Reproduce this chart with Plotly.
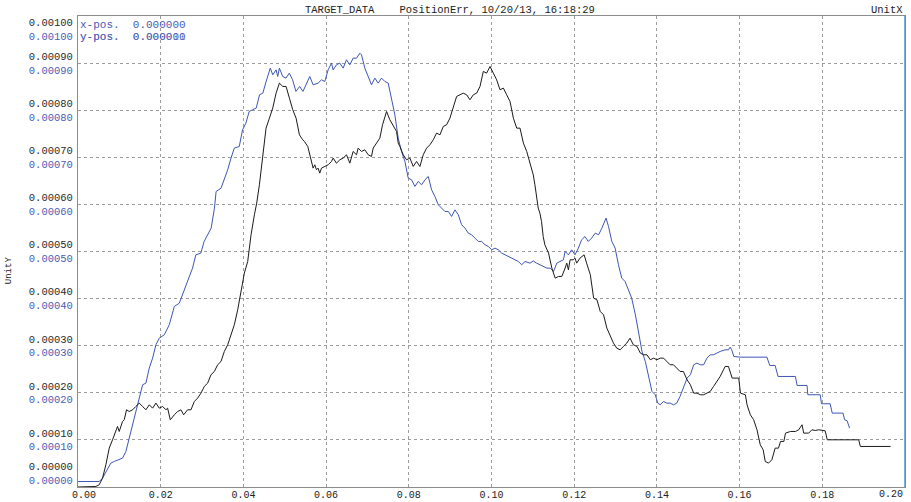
import plotly.graph_objects as go

# ---- series: time [s] and position error ----
black_t = [
    0.0, 0.00432, 0.00513, 0.00593, 0.00674, 0.00755, 0.00835, 0.00916, 0.00956, 0.00997,
    0.01077, 0.01118, 0.01174, 0.01239, 0.01320, 0.01400, 0.01481, 0.01562, 0.01642, 0.01723,
    0.01804, 0.01885, 0.01965, 0.02046, 0.02127, 0.02167, 0.02232, 0.02329, 0.02409, 0.02490,
    0.02555, 0.02651, 0.02732, 0.02813, 0.02893, 0.02974, 0.03055, 0.03136, 0.03216, 0.03297,
    0.03378, 0.03458, 0.03539, 0.03620, 0.03700, 0.03781, 0.03862, 0.03943, 0.04023, 0.04104,
    0.04185, 0.04266, 0.04322, 0.04387, 0.04467, 0.04548, 0.04629, 0.04709, 0.04790, 0.04871,
    0.04952, 0.05032, 0.05113, 0.05194, 0.05274, 0.05355, 0.05436, 0.05476, 0.05557,
    0.05605, 0.05646, 0.05686, 0.05726, 0.05767, 0.05807, 0.05847, 0.05888, 0.05969, 0.06049,
    0.06130, 0.06170, 0.06251, 0.06332, 0.06412, 0.06493, 0.06574, 0.06654, 0.06735, 0.06775,
    0.06856, 0.06937, 0.07018, 0.07098, 0.07139, 0.07220, 0.07300, 0.07365, 0.07421, 0.07462,
    0.07542, 0.07623, 0.07704, 0.07744, 0.07785, 0.07865, 0.07946, 0.08027, 0.08107, 0.08188,
    0.08269, 0.08349, 0.08430, 0.08511, 0.08592, 0.08672, 0.08753, 0.08834, 0.08914, 0.08995,
    0.09076, 0.09157, 0.09237, 0.09318, 0.09399, 0.09479, 0.09560, 0.09641, 0.09722, 0.09762,
    0.09802, 0.09883, 0.09964, 0.10045, 0.10125, 0.10206, 0.10287, 0.10367, 0.10448, 0.10529,
    0.10610, 0.10690, 0.10771, 0.10852, 0.10932,
    0.1101, 0.1105, 0.1109, 0.1113, 0.1117, 0.1121, 0.1125, 0.1129, 0.1138, 0.1146,
    0.1154, 0.1162, 0.1170, 0.1174, 0.1178, 0.1182, 0.1186, 0.1190, 0.1198, 0.1202,
    0.1206, 0.1214, 0.1224, 0.1230, 0.1239, 0.1247, 0.1255, 0.1263, 0.1271, 0.1279,
    0.1287, 0.1295, 0.1303, 0.1311, 0.1319, 0.1327, 0.1335, 0.1343, 0.1352, 0.1360,
    0.1368, 0.1376, 0.1384, 0.1392, 0.1400, 0.1408, 0.1416, 0.1424, 0.1432, 0.1440,
    0.1448, 0.1456, 0.1464, 0.1473, 0.1481, 0.1489, 0.1497, 0.1505, 0.1513, 0.1521,
    0.1529, 0.1537, 0.1545, 0.1553,
    0.1561, 0.1565, 0.1573, 0.1577, 0.1582, 0.1598, 0.1602, 0.1614, 0.1618, 0.1626,
    0.1634, 0.1642, 0.1650, 0.1657, 0.1662, 0.1670, 0.1678, 0.1686, 0.1694, 0.1699,
    0.1707, 0.1711, 0.1723, 0.1735, 0.1743, 0.1751, 0.1755, 0.1767, 0.1775, 0.1783,
    0.1791, 0.1807, 0.1812, 0.1888, 0.1892, 0.1965,
]
black_v = [
    0.0, 0.0000011, 0.0000047, 0.0000188, 0.0000471, 0.0000825, 0.0001002, 0.0001179, 0.0001285, 0.0001179,
    0.0001391, 0.0001427, 0.0001639, 0.0001603, 0.0001639, 0.0001710, 0.0001781, 0.0001710, 0.0001639, 0.0001745,
    0.0001674, 0.0001781, 0.0001674, 0.0001710, 0.0001639, 0.0001674, 0.0001427, 0.0001533, 0.0001603, 0.0001639,
    0.0001533, 0.0001639, 0.0001639, 0.0001816, 0.0001887, 0.0001993, 0.0002135, 0.0002205, 0.0002382, 0.0002453,
    0.0002595, 0.0002665, 0.0002878, 0.0003019, 0.0003231, 0.0003444, 0.0003762, 0.0004151, 0.0004541, 0.0004788,
    0.0005355, 0.0005779, 0.0006027, 0.0006416, 0.0007053, 0.0007619, 0.0007831, 0.0008044, 0.0008362, 0.0008575,
    0.0008504, 0.0008504, 0.0008256, 0.0008009, 0.0007831, 0.0007477, 0.0007371, 0.0007336, 0.0007230,
    0.0007053, 0.0006876, 0.0006770, 0.0006841, 0.0006735, 0.0006770, 0.0006664, 0.0006770, 0.0006806, 0.0006841,
    0.0006912, 0.0006983, 0.0006876, 0.0006947, 0.0006983, 0.0007053, 0.0006876, 0.0007124, 0.0007053, 0.0007195,
    0.0007124, 0.0007159, 0.0007053, 0.0007018, 0.0007195, 0.0007301, 0.0007407, 0.0007690, 0.0007832, 0.0007973,
    0.0007796, 0.0007655, 0.0007548, 0.0007301, 0.0007230, 0.0007053, 0.0006947, 0.0006983, 0.0006806, 0.0006912,
    0.0006806, 0.0007053, 0.0007195, 0.0007266, 0.0007372, 0.0007513, 0.0007478, 0.0007655, 0.0007690, 0.0007832,
    0.0008044, 0.0008292, 0.0008327, 0.0008362, 0.0008327, 0.0008221, 0.0008327, 0.0008362, 0.0008504, 0.0008645,
    0.0008822, 0.0008787, 0.0008929, 0.0008787, 0.0008645, 0.0008433, 0.0008469, 0.0008327, 0.0008186, 0.0007832,
    0.0007619, 0.0007619, 0.0007301, 0.0007124, 0.0006876,
    0.0006629, 0.0006416, 0.0006204, 0.0005921, 0.0005815, 0.0005638, 0.0005319, 0.0005143, 0.0004966, 0.0004647,
    0.0004435, 0.0004470, 0.0004470, 0.0004541, 0.0004647, 0.0004753, 0.0004612, 0.0004824, 0.0004824, 0.0004859,
    0.0004753, 0.0004859, 0.0004930, 0.0004753, 0.0004505, 0.0004010, 0.0003974, 0.0003727, 0.0003656, 0.0003373,
    0.0003231, 0.0003054, 0.0002948, 0.0002913, 0.0002984, 0.0003054, 0.0003160, 0.0003019, 0.0002984, 0.0002842,
    0.0002807, 0.0002807, 0.0002701, 0.0002736, 0.0002701, 0.0002736, 0.0002736, 0.0002665, 0.0002595, 0.0002595,
    0.0002524, 0.0002453, 0.0002453, 0.0002276, 0.0002170, 0.0001993, 0.0001993, 0.0001958, 0.0001958, 0.0001993,
    0.0002029, 0.0002135, 0.0002241, 0.0002347,
    0.0002488, 0.0002559, 0.0002559, 0.0002453, 0.0002312, 0.0002312, 0.0001993, 0.0001958, 0.0001745, 0.0001533,
    0.0001427, 0.0001215, 0.0000896, 0.0000790, 0.0000542, 0.0000507, 0.0000577, 0.0000825, 0.0000825, 0.0000967,
    0.0000967, 0.0001144, 0.0001179, 0.0001179, 0.0001215, 0.0001321, 0.0001144, 0.0001144, 0.0001215, 0.0001200,
    0.0001215, 0.0001193, 0.0001002, 0.0001002, 0.0000861, 0.0000861,
]

blue_t = [
    0.0, 0.00513, 0.00593, 0.00714, 0.00795, 0.00876, 0.00956, 0.01077, 0.01158, 0.01239,
    0.01360, 0.01481, 0.01562, 0.01642, 0.01723, 0.01804, 0.01885, 0.01965, 0.02086, 0.02207,
    0.02329, 0.02450, 0.02530, 0.02650, 0.02770, 0.02850, 0.02970, 0.03050, 0.03140, 0.03220,
    0.03300, 0.03340, 0.03460, 0.03540, 0.03620, 0.03700, 0.03780, 0.03900, 0.03980, 0.04060,
    0.04140, 0.04220, 0.04310, 0.04390, 0.04470, 0.04550, 0.04650, 0.04710, 0.04790, 0.04830,
    0.04870, 0.04950, 0.05030, 0.05110, 0.05190, 0.05270, 0.05360, 0.05440, 0.05560,
    0.05605, 0.05686, 0.05807, 0.05888, 0.05969, 0.06049, 0.06130, 0.06170, 0.06251, 0.06332,
    0.06412, 0.06493, 0.06574, 0.06654, 0.06735, 0.06816, 0.06856, 0.06937, 0.07018, 0.07098,
    0.07179, 0.07260, 0.07341, 0.07421, 0.07502, 0.07583, 0.07663, 0.07744, 0.07825, 0.07906,
    0.07986, 0.08067, 0.08148, 0.08228, 0.08309, 0.08390, 0.08471, 0.08551, 0.08632, 0.08713,
    0.08793, 0.08874, 0.08955, 0.09035, 0.09116, 0.09197, 0.09278, 0.09358, 0.09439, 0.09520,
    0.09600, 0.09681, 0.09762, 0.09843, 0.09923, 0.10004, 0.10085, 0.10165, 0.10246, 0.10327,
    0.10408, 0.10488, 0.10569, 0.10650, 0.10730, 0.10811, 0.10932,
    0.1101, 0.1109, 0.1117, 0.1125, 0.1134, 0.1142, 0.1150, 0.1158, 0.1166, 0.1174,
    0.1178, 0.1186, 0.1194, 0.1202, 0.1210, 0.1218, 0.1226, 0.1234, 0.1242, 0.1251,
    0.1259, 0.1267, 0.1277, 0.1283, 0.1291, 0.1299, 0.1307, 0.1315, 0.1323, 0.1331,
    0.1339, 0.1348, 0.1356, 0.1364, 0.1372, 0.1380, 0.1388, 0.1396, 0.1402, 0.1408,
    0.1416, 0.1424, 0.1432, 0.1440, 0.1448, 0.1456, 0.1464, 0.1473, 0.1481, 0.1489,
    0.1497, 0.1505, 0.1513, 0.1521, 0.1529, 0.1537, 0.1553,
    0.1565, 0.1573, 0.1577, 0.1581, 0.1586, 0.1602, 0.1666, 0.1673, 0.1686, 0.1693,
    0.1735, 0.1739, 0.1763, 0.1765, 0.1795, 0.1798, 0.1819, 0.1824, 0.1850, 0.1854,
    0.1860, 0.1866,
]
blue_v = [
    0.0000117, 0.0000117, 0.0000188, 0.0000365, 0.0000507, 0.0000542, 0.0000577, 0.0000613, 0.0000754, 0.0001038,
    0.0001462, 0.0001887, 0.0002170, 0.0002205, 0.0002524, 0.0002736, 0.0003019, 0.0003160, 0.0003231, 0.0003444,
    0.0003833, 0.0003904, 0.0004081, 0.0004364, 0.0004647, 0.0004930, 0.0004965, 0.0005213, 0.0005355, 0.0005496,
    0.0005921, 0.0006275, 0.0006345, 0.0006522, 0.0006735, 0.0006983, 0.0007195, 0.0007230, 0.0007584, 0.0007726,
    0.0007973, 0.0008009, 0.0008044, 0.0008327, 0.0008362, 0.0008610, 0.0008893, 0.0008751, 0.0008857, 0.0008716,
    0.0008893, 0.0008716, 0.0008681, 0.0008787, 0.0008645, 0.0008398, 0.0008504, 0.0008398, 0.0008610,
    0.0008716, 0.0008539, 0.0008575, 0.0008645, 0.0008610, 0.0008857, 0.0008999, 0.0008857, 0.0008964, 0.0008999,
    0.0008893, 0.0009070, 0.0008964, 0.0009105, 0.0009105, 0.0009212, 0.0009176, 0.0008893, 0.0008716, 0.0008539,
    0.0008681, 0.0008575, 0.0008681, 0.0008610, 0.0008575, 0.0008256, 0.0007902, 0.0007407, 0.0007124, 0.0006912,
    0.0006558, 0.0006522, 0.0006381, 0.0006487, 0.0006416, 0.0006522, 0.0006593, 0.0006310, 0.0006169, 0.0005992,
    0.0005921, 0.0005850, 0.0005850, 0.0005744, 0.0005885, 0.0005779, 0.0005568, 0.0005496, 0.0005390, 0.0005355,
    0.0005284, 0.0005213, 0.0005213, 0.0005143, 0.0005107, 0.0005036, 0.0005072, 0.0005036, 0.0004966, 0.0004930,
    0.0004895, 0.0004859, 0.0004824, 0.0004788, 0.0004718, 0.0004788, 0.0004753,
    0.0004800, 0.0004753, 0.0004718, 0.0004682, 0.0004647, 0.0004647, 0.0004576, 0.0004753, 0.0004788, 0.0004824,
    0.0005001, 0.0004930, 0.0005036, 0.0004930, 0.0005072, 0.0005249, 0.0005319, 0.0005213, 0.0005284, 0.0005390,
    0.0005355, 0.0005496, 0.0005709, 0.0005532, 0.0005213, 0.0005072, 0.0004718, 0.0004435, 0.0004364, 0.0004187,
    0.0004010, 0.0003656, 0.0003303, 0.0002878, 0.0002665, 0.0002312, 0.0002029, 0.0001958, 0.0001781, 0.0001745,
    0.0001816, 0.0001781, 0.0001781, 0.0001745, 0.0001781, 0.0001922, 0.0002099, 0.0002312, 0.0002383, 0.0002595,
    0.0002630, 0.0002595, 0.0002595, 0.0002736, 0.0002807, 0.0002807, 0.0002878,
    0.0002913, 0.0002913, 0.0002970, 0.0002913, 0.0002771, 0.0002757, 0.0002757, 0.0002580, 0.0002580, 0.0002347,
    0.0002347, 0.0002156, 0.0002156, 0.0001958, 0.0001958, 0.0001767, 0.0001767, 0.0001569, 0.0001569, 0.0001427,
    0.0001406, 0.0001250,
]

x_ticks = [0.00, 0.02, 0.04, 0.06, 0.08, 0.10, 0.12, 0.14, 0.16, 0.18, 0.20]
y_ticks = [0.0000, 0.0001, 0.0002, 0.0003, 0.0004, 0.0005, 0.0006, 0.0007, 0.0008, 0.0009, 0.0010]

INK = "#1a1a1a"
BLUE = "#3d56b3"
LABEL_BLUE = "#4b5cb2"
GRID = "#9c9c9c"
FRAME = "#8c8c8c"
MONO = "Liberation Mono, Courier New, monospace"
NB = "\u00a0"

# x labels: the first one is pulled inside the frame, the last one is
# right-aligned against the frame edge as a separate label
x_text = [f"{v:.2f}" for v in x_ticks]
x_text[0] = NB * 2 + x_text[0]
last_x_label = x_text[-1]
x_text[-1] = ""

# y labels: every level is printed twice (black, then blue);
# the end labels are nudged inward with blank lines
y_text = []
for i, v in enumerate(y_ticks):
    s = f"{v:.5f}"
    pair = f"{s}<br><span style='color:{LABEL_BLUE}'>{s}</span>"
    if i == 0:
        pair = pair + f"<br>{NB}<br>{NB}"
    elif i == len(y_ticks) - 1:
        pair = f"{NB}<br>{NB}<br>" + pair
    y_text.append(pair)

fig = go.Figure()
fig.add_trace(go.Scatter(x=blue_t, y=blue_v, mode="lines",
                         line=dict(color=BLUE, width=1), hoverinfo="skip"))
fig.add_trace(go.Scatter(x=black_t, y=black_v, mode="lines",
                         line=dict(color=INK, width=1), hoverinfo="skip"))

fig.update_layout(
    width=911, height=502,
    margin=dict(l=78, r=6, t=16, b=15),
    paper_bgcolor="white", plot_bgcolor="white",
    showlegend=False,
    font=dict(family=MONO, size=10.5, color=INK),
    xaxis=dict(
        range=[0, 0.2], tickvals=x_ticks, ticktext=x_text,
        showgrid=True, gridcolor=GRID, griddash="3px,3px", gridwidth=1,
        zeroline=False, showline=True, linecolor=FRAME, linewidth=1, mirror=True,
        ticks="", ticklabelstandoff=-2, ticklabeloverflow="allow", automargin=False,
        tickfont=dict(family=MONO, size=10, color="#222222"),
    ),
    yaxis=dict(
        range=[0, 0.001], tickvals=y_ticks, ticktext=y_text,
        showgrid=True, gridcolor=GRID, griddash="3px,3px", gridwidth=1,
        zeroline=False, showline=True, linecolor=FRAME, linewidth=1, mirror=True,
        ticks="", ticklabelstandoff=2, ticklabeloverflow="allow", automargin=False,
        tickfont=dict(family=MONO, size=10.5, color="#2a2a2a"),
    ),
)

# right edge of the frame
fig.add_shape(type="line", xref="paper", yref="paper", x0=1, x1=1, y0=0, y1=1,
              line=dict(color="#4f8fd8", width=1.5))

fig.add_annotation(text=last_x_label, xref="paper", yref="paper", x=1.0, y=-0.0165,
                   xanchor="right", yanchor="middle", showarrow=False,
                   font=dict(family=MONO, size=10, color="#222222"))

ann_font = dict(family=MONO, size=10.5, color="#222222")
fig.add_annotation(text="TARGET_DATA" + NB * 4 + "PositionErr, 10/20/13, 16:18:29",
                   xref="paper", yref="paper", x=0.4498, y=1.0127,
                   xanchor="center", yanchor="middle", showarrow=False, font=ann_font)
fig.add_annotation(text="UnitX", xref="paper", yref="paper", x=1.0, y=1.0127,
                   xanchor="right", yanchor="middle", showarrow=False, font=ann_font)
fig.add_annotation(text="UnitY", xref="paper", yref="paper", x=-0.083, y=0.461,
                   xanchor="center", yanchor="middle", textangle=-90,
                   showarrow=False, font=dict(family=MONO, size=9, color="#222222"))

pos_font = dict(family=MONO, size=11, color=LABEL_BLUE)
fig.add_annotation(text="x-pos." + NB * 2 + "0.000000", xref="paper", yref="paper",
                   x=0.0, y=0.981, xanchor="left", yanchor="middle",
                   showarrow=False, font=pos_font)
fig.add_annotation(text="y-pos." + NB * 2 + "0.000000", xref="paper", yref="paper",
                   x=0.0, y=0.955, xanchor="left", yanchor="middle",
                   showarrow=False, font=pos_font)
fig.add_annotation(text="y-pos." + NB * 2 + "0.000011", xref="paper", yref="paper",
                   x=0.0, y=0.955, xanchor="left", yanchor="middle",
                   showarrow=False, font=dict(family=MONO, size=11, color="rgba(75,92,178,0.55)"))

fig.write_html("out.html")
